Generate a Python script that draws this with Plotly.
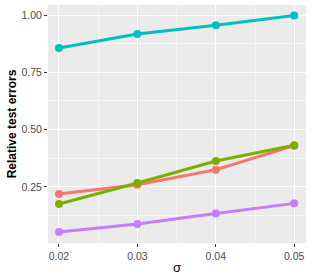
import plotly.graph_objects as go

sigma = [0.02, 0.03, 0.04, 0.05]
red_vals = [0.219, 0.259, 0.325, 0.430]
green_vals = [0.175, 0.267, 0.363, 0.432]
cyan_vals = [0.856, 0.917, 0.956, 0.998]
purple_vals = [0.053, 0.088, 0.134, 0.178]

series = [
    (red_vals, "#F8766D"),
    (green_vals, "#7CAE00"),
    (cyan_vals, "#00BFC4"),
    (purple_vals, "#C77CFF"),
]

fig = go.Figure()
for vals, col in series:
    fig.add_trace(go.Scatter(x=sigma, y=vals, mode="lines+markers",
                             line=dict(color=col, width=3),
                             marker=dict(color=col, size=8),
                             showlegend=False, cliponaxis=False))

fig.update_layout(
    width=312, height=277,
    margin=dict(l=48, r=6, t=5, b=34),
    paper_bgcolor="white", plot_bgcolor="#EBEBEB",
    font=dict(family="Liberation Sans, Arial", color="#4D4D4D", size=10.5),
    xaxis=dict(range=[0.0186, 0.0515], tickvals=[0.02, 0.03, 0.04, 0.05],
               ticktext=["0.02", "0.03", "0.04", "0.05"],
               showgrid=True, gridcolor="white", gridwidth=1.2,
               minor=dict(tickvals=[0.025, 0.035, 0.045], showgrid=True, gridcolor="#F5F5F5", gridwidth=0.6),
               ticks="outside", ticklen=3, tickcolor="#333333", zeroline=False,
               automargin=False,
               title=dict(text="σ", font=dict(size=13, color="black"), standoff=2)),
    yaxis=dict(range=[0.005, 1.044], tickvals=[0.25, 0.5, 0.75, 1.0],
               ticktext=["0.25", "0.50", "0.75", "1.00"],
               showgrid=True, gridcolor="white", gridwidth=1.2,
               minor=dict(tickvals=[0.125, 0.375, 0.625, 0.875], showgrid=True, gridcolor="#F5F5F5", gridwidth=0.6),
               ticks="outside", ticklen=3, tickcolor="#333333", zeroline=False,
               automargin=False,
               title=dict(text="<b>Relative test errors</b>", font=dict(size=12, color="black"), standoff=2)),
)

fig.write_html("out.html", config={"displayModeBar": False},
               post_script="document.body.style.margin='0';document.body.style.overflow='hidden';")
